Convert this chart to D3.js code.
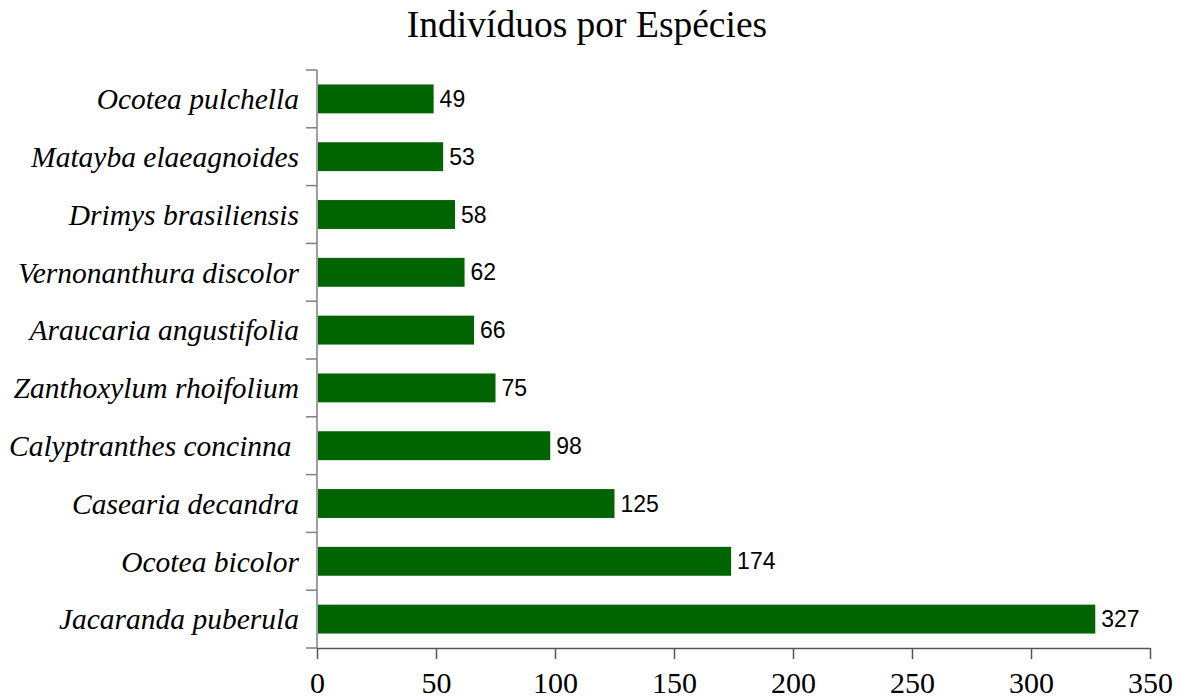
<!DOCTYPE html>
<html><head><meta charset="utf-8">
<script src="https://cdn.jsdelivr.net/npm/d3@7"></script>
<style>body{margin:0;background:#fff}</style>
</head><body>
<svg id="c" width="1183" height="699"></svg>
<script>
const species = ["Ocotea pulchella","Matayba elaeagnoides","Drimys brasiliensis","Vernonanthura discolor","Araucaria angustifolia","Zanthoxylum rhoifolium","Calyptranthes concinna ","Casearia decandra","Ocotea bicolor","Jacaranda puberula"];
const counts = [49,53,58,62,66,75,98,125,174,327];
const xTicks = [0,50,100,150,200,250,300,350];
const title = "Indivíduos por Espécies";

const svg = d3.select("#c");
const x = d3.scaleLinear().domain([0,350]).range([317,1150]);
const y = d3.scaleBand().domain(species).range([70,648]).paddingInner(0.5).paddingOuter(0.25);

svg.append("text").attr("x",587).attr("y",37).attr("text-anchor","middle")
  .attr("font-family","Liberation Serif").attr("font-size",37.5).attr("fill","#000").text(title);

svg.selectAll("rect.bar").data(species).enter().append("rect")
  .attr("x",x(0)+1).attr("y",d=>y(d)).attr("height",y.bandwidth())
  .attr("width",(d,i)=>x(counts[i])-x(0)-1).attr("fill","#006400");

svg.selectAll("text.val").data(species).enter().append("text")
  .attr("x",(d,i)=>x(counts[i])+6).attr("y",d=>y(d)+y.bandwidth()/2).attr("dy","0.35em")
  .attr("font-family","Liberation Sans").attr("font-size",23).attr("fill","#000")
  .text((d,i)=>counts[i]);

// left axis
const yb = d3.scaleBand().domain(species).range([70,648]);
const ga = svg.append("g");
ga.append("line").attr("x1",317).attr("x2",317).attr("y1",70).attr("y2",648).attr("stroke","#808080").attr("stroke-width",1.5);
const edges = species.map(d=>yb(d)).concat([648]);
ga.selectAll("line.t").data(edges).enter().append("line")
  .attr("x1",306).attr("x2",317).attr("y1",d=>d).attr("y2",d=>d).attr("stroke","#808080").attr("stroke-width",1.5);
ga.selectAll("text.cat").data(species).enter().append("text")
  .attr("x",299).attr("y",d=>yb(d)+yb.bandwidth()/2).attr("dy","0.35em")
  .attr("text-anchor","end").attr("font-family","Liberation Serif").attr("font-style","italic")
  .attr("font-size",29.5).attr("fill","#000").attr("xml:space","preserve").style("white-space","pre").text(d=>d);

// bottom axis
const gx = svg.append("g").attr("transform","translate(0,648)")
  .call(d3.axisBottom(x).tickValues(xTicks).tickSize(11).tickPadding(13).tickSizeOuter(0));
gx.select(".domain").attr("stroke","#555").attr("stroke-width",1.5);
gx.selectAll(".tick line").attr("stroke","#555").attr("stroke-width",1.5);
gx.selectAll(".tick text").attr("font-family","Liberation Serif").attr("font-size",30).attr("fill","#000");
</script>
</body></html>
